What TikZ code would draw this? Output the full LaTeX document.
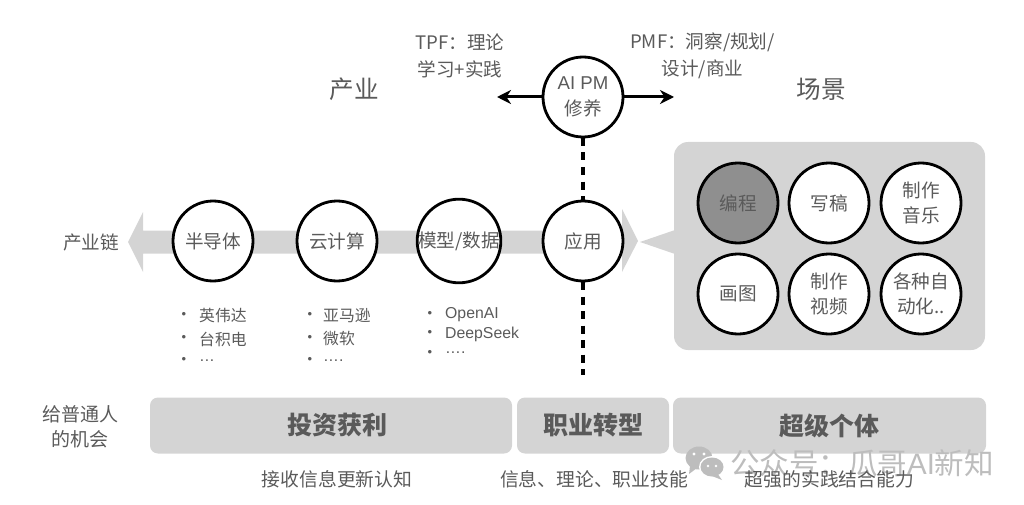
\documentclass[tikz,border=0pt]{standalone}
\usepackage{fontspec}
\setmainfont{Noto Sans CJK SC}
\newfontfamily\lat{Liberation Sans}
\usetikzlibrary{arrows.meta}
\definecolor{ink}{HTML}{5A5A5A}
\definecolor{panelgray}{HTML}{D4D4D4}
\definecolor{darkfill}{HTML}{8F8F8F}
\definecolor{markgray}{HTML}{BDBDBD}
\tikzset{
  txt/.style={text=ink,inner sep=0pt,align=center,font=\fontsize{18.6}{27}\selectfont},
  ring/.style={circle,draw=black,line width=2.8pt,fill=white,minimum size=80pt,inner sep=0pt,outer sep=1pt,text=ink,align=center,font=\fontsize{18.6}{25.5}\selectfont},
  heading/.style={txt,font=\fontsize{24.6}{30}\selectfont},
  small/.style={txt,anchor=west,font=\fontsize{15.8}{20}\selectfont},
  dotmark/.style={txt,font=\lat\fontsize{13}{13}\selectfont},
  bar/.style={fill=panelgray,rounded corners=8pt,draw=none,inner sep=0pt,text=ink,font=\fontsize{25}{30}\selectfont\bfseries},
  pointer/.style={line width=3pt,-{Stealth[length=14pt,width=14pt]}},
  divider/.style={line width=3.2pt,dash pattern=on 8pt off 6.5pt},
  bottomnote/.style={txt,font=\fontsize{18.8}{25}\selectfont},
}
\begin{document}
\begin{tikzpicture}[x=1pt,y=-1pt]
\useasboundingbox (0,0) rectangle (1024,505);
% band with two arrow heads
\fill[panelgray] (128,242) -- (143,212) -- (143,230.5) -- (622,230.5) -- (622,209) -- (638,241) -- (622,272) -- (622,253.5) -- (143,253.5) -- (143,272) -- cycle;
% callout panel
\fill[panelgray,rounded corners=14pt] (674,142) rectangle (985,350);
\fill[panelgray] (640,242) -- (675,230) -- (675,254) -- cycle;

% divider and AI PM
\node[ring] (aipm) at (583,97) {\lat AI PM\\修养};
\node[ring] (yy) at (583,241) {应用};
\coordinate (divend) at (583,375);
\draw[divider] (aipm.south) -- (yy.north);
\draw[divider] (yy.south) -- (divend);
\coordinate (tpfend) at (497,97);
\coordinate (pmfend) at (674,97);
\draw[pointer] (aipm.west) -- (tpfend);
\draw[pointer] (aipm.east) -- (pmfend);

\node[txt] (tpf) at (460,56) {TPF：理论\\学习+实践};
\node[txt] (pmf) at (702.5,56) {PMF：洞察/规划/\\设计/商业};
\node[heading] (chanye) at (354,89) {产业};
\node[heading] (changjing) at (821,89) {场景};

% chain
\node[txt] (chain) at (91,242) {产业链};
\node[ring] (semi) at (213,241) {半导体};
\node[ring] (cloud) at (337,241) {云计算};
\node[ring] (model) at (459,241) {模型/数据};

% lists
\node[dotmark] (b1a) at (184,315) {•};
\node[dotmark] (b1b) at (184,338) {•};
\node[dotmark] (b1c) at (184,360) {•};
\node[small] (t1a) at (199,316) {英伟达};
\node[small] (t1b) at (199,339) {台积电};
\node[small] (t1c) at (199,361) {\lat …};
\node[dotmark] (b2a) at (310,315) {•};
\node[dotmark] (b2b) at (310,338) {•};
\node[dotmark] (b2c) at (310,360) {•};
\node[small] (t2a) at (323,316) {亚马逊};
\node[small] (t2b) at (323,339) {微软};
\node[small] (t2c) at (323,361) {\lat ….};
\node[dotmark] (b3a) at (430,314) {•};
\node[dotmark] (b3b) at (430,333) {•};
\node[dotmark] (b3c) at (430,353) {•};
\node[small] (t3a) at (445,315) {\lat OpenAI};
\node[small] (t3b) at (445,334) {\lat DeepSeek};
\node[small] (t3c) at (445,353) {\lat ….};

% scene circles
\node[ring,fill=darkfill,text=ink] (c1) at (738,203) {编程};
\node[ring] (c2) at (829,203) {写稿};
\node[ring] (c3) at (921,203) {制作\\音乐};
\node[ring] (c4) at (738,294) {画图};
\node[ring] (c5) at (829,294) {制作\\视频};
\node[ring] (c6) at (921,294) {各种自\\动化..};

% bottom row
\node[txt,font=\fontsize{19}{25}\selectfont] (give) at (80,427) {给普通人\\的机会};
\node[bar,minimum width=362pt,minimum height=56pt] (bar1) at (331,425.5) {\hspace*{12pt}投资获利};
\node[bar,minimum width=152pt,minimum height=56pt] (bar2) at (593,425.5) {职业转型};
\node[bar,minimum width=313pt,minimum height=56pt] (bar3) at (829.5,425.5) {超级个体};

% watermark
\fill[markgray] (699,458) ellipse [x radius=13.5pt,y radius=11.5pt];
\fill[markgray] (690,466) -- (689,474) -- (697,468) -- cycle;
\fill[white] (712,467) ellipse [x radius=13pt,y radius=11pt];
\fill[markgray] (712,467) ellipse [x radius=11.5pt,y radius=9.5pt];
\fill[markgray] (717,473) -- (722,480) -- (712,476) -- cycle;
\fill[white] (694,454) circle (1.6pt) (704,454) circle (1.6pt) (708,466) circle (1.3pt) (716,466) circle (1.3pt);
\node[txt,text=markgray,font=\fontsize{29.5}{30}\selectfont] (mark) at (862,463) {公众号：瓜哥{\lat AI}新知};

\node[bottomnote] (n1) at (337,479) {接收信息更新认知};
\node[bottomnote] (n2) at (594,479) {信息、理论、职业技能};
\node[bottomnote] (n3) at (829.5,479) {超强的实践结合能力};
\end{tikzpicture}
\end{document}
